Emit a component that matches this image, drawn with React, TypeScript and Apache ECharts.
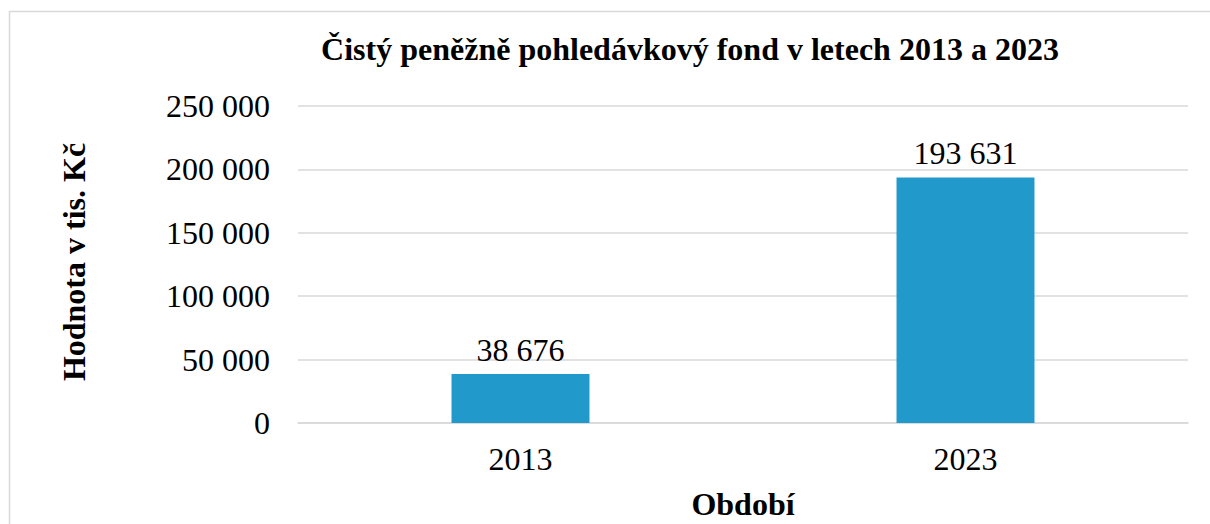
import React, { useEffect, useRef } from "react";
import * as echarts from "echarts";

const categories = ["2013", "2023"];
const values = [38676, 193631];
const yTicks = [0, 50000, 100000, 150000, 200000, 250000];

const titleText = "Čistý peněžně pohledávkový fond v letech 2013 a 2023";
const yName = "Hodnota v tis. Kč";
const xName = "Období";

const FONT = "'Liberation Serif', 'Times New Roman', serif";

function fmt(v: number): string {
  return String(Math.round(v)).replace(/\B(?=(\d{3})+(?!\d))/g, " ");
}

export default function App() {
  const ref = useRef<HTMLDivElement>(null);
  useEffect(() => {
    if (!ref.current) return;
    const chart = echarts.init(ref.current, null, { renderer: "svg" });
    chart.setOption({
      animation: false,
      backgroundColor: "#ffffff",
      grid: { left: 298, right: 22, top: 106, bottom: 101, containLabel: false },
      xAxis: {
        type: "category",
        data: categories,
        axisLine: { show: true, lineStyle: { color: "#d9d9d9", width: 1.5 } },
        axisTick: { show: false },
        axisLabel: { color: "#000", fontSize: 32, fontFamily: FONT, margin: 20 },
      },
      yAxis: {
        type: "value",
        min: yTicks[0],
        max: yTicks[yTicks.length - 1],
        interval: yTicks[1] - yTicks[0],
        axisLine: { show: false },
        axisTick: { show: false },
        splitLine: { lineStyle: { color: "#d9d9d9", width: 1.5 } },
        axisLabel: {
          color: "#000",
          fontSize: 32,
          fontFamily: FONT,
          margin: 28,
          formatter: (v: number) => fmt(v),
        },
      },
      series: [
        {
          type: "bar",
          data: values,
          barWidth: "31%",
          itemStyle: { color: "#2199cb" },
          label: {
            show: true,
            position: "top",
            distance: 8,
            color: "#000",
            fontSize: 32,
            fontFamily: FONT,
            formatter: (p: any) => fmt(p.value),
          },
        },
      ],
      graphic: [
        {
          type: "rect",
          shape: { x: 9.5, y: 11.5, width: 1300, height: 700 },
          style: { fill: "none", stroke: "#d9d9d9", lineWidth: 1.5 },
          silent: true,
        },
        {
          type: "text",
          x: 690,
          y: 49,
          style: {
            text: titleText,
            fontSize: 32,
            fontWeight: "bold",
            fontFamily: FONT,
            fill: "#000",
            align: "center",
            verticalAlign: "middle",
          },
        },
        {
          type: "text",
          x: 74,
          y: 262,
          rotation: Math.PI / 2,
          style: {
            text: yName,
            fontSize: 32,
            fontWeight: "bold",
            fontFamily: FONT,
            fill: "#000",
            align: "center",
            verticalAlign: "middle",
          },
        },
        {
          type: "text",
          x: 743,
          y: 504,
          style: {
            text: xName,
            fontSize: 32,
            fontWeight: "bold",
            fontFamily: FONT,
            fill: "#000",
            align: "center",
            verticalAlign: "middle",
          },
        },
      ],
    });
    return () => chart.dispose();
  }, []);
  return (
    <div
      ref={ref}
      style={{ position: "absolute", left: 0, top: 0, width: 1210, height: 524 }}
    />
  );
}
